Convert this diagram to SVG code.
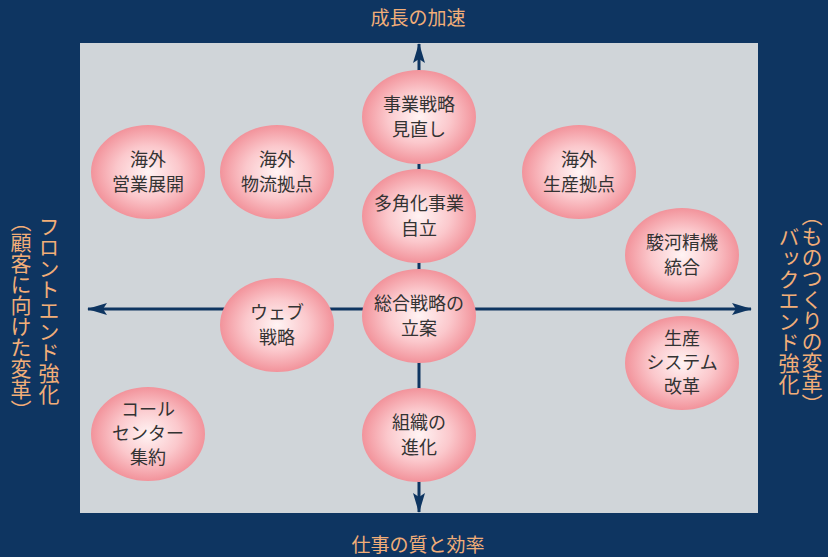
<svg xmlns="http://www.w3.org/2000/svg" width="828" height="557" viewBox="0 0 828 557">
<style>
.lbl{font-family:"Noto Sans CJK JP","Noto Sans",sans-serif;font-size:19px;fill:#f2ae78}
.vt{font-family:"Noto Sans CJK JP","Noto Sans",sans-serif;font-size:21px;fill:#f2ae78;writing-mode:vertical-rl;text-anchor:middle}
.nt{font-family:"Noto Sans CJK JP","Noto Sans",sans-serif;font-size:18px;fill:#333;text-anchor:middle}
.ax{stroke:#0e3561;stroke-width:3;fill:none}
.bub{fill:url(#g)}
</style>
<defs>
<radialGradient id="g" cx="50%" cy="50%" r="50%">
<stop offset="0" stop-color="#fff4f4"/>
<stop offset="0.55" stop-color="#fbc8cc"/>
<stop offset="1" stop-color="#f2939b"/>
</radialGradient>
<marker id="ah" viewBox="0 0 20 12" refX="19" refY="6" markerWidth="20" markerHeight="12" markerUnits="userSpaceOnUse" orient="auto-start-reverse">
<path d="M0,0 L20,6 L0,12 L4,6 Z" fill="#0e3561"/>
</marker>
</defs>
<rect width="828" height="557" fill="#0e3561"/>
<rect x="80" y="43" width="678" height="470" fill="#d0d5d9"/>
<text class="lbl" x="418" y="25" text-anchor="middle">成長の加速</text>
<text class="lbl" x="418" y="552" text-anchor="middle">仕事の質と効率</text>
<text class="vt" x="49" y="310">フロントエンド強化</text>
<text class="vt" x="21" y="316">（顧客に向けた変革）</text>
<text class="vt" x="812" y="310">（ものつくりの変革）</text>
<text class="vt" x="789" y="311">バックエンド強化</text>
<g id="connectors">
<line class="ax" x1="88" y1="309" x2="751" y2="309" marker-start="url(#ah)" marker-end="url(#ah)"/>
<line class="ax" x1="419" y1="44" x2="419" y2="512" marker-start="url(#ah)" marker-end="url(#ah)"/>
</g>
<g id="n1"><ellipse class="bub" cx="419" cy="117" rx="57" ry="47"/><text class="nt" x="419" y="111">事業戦略</text><text class="nt" x="419" y="136">見直し</text></g>
<g id="n2"><ellipse class="bub" cx="419" cy="216" rx="57" ry="47"/><text class="nt" x="419" y="210">多角化事業</text><text class="nt" x="419" y="235">自立</text></g>
<g id="n3"><ellipse class="bub" cx="419" cy="316" rx="57" ry="47"/><text class="nt" x="419" y="310">総合戦略の</text><text class="nt" x="419" y="335">立案</text></g>
<g id="n4"><ellipse class="bub" cx="419" cy="435" rx="57" ry="47"/><text class="nt" x="419" y="429">組織の</text><text class="nt" x="419" y="454">進化</text></g>
<g id="n5"><ellipse class="bub" cx="148" cy="172" rx="57" ry="47"/><text class="nt" x="148" y="166">海外</text><text class="nt" x="148" y="191">営業展開</text></g>
<g id="n6"><ellipse class="bub" cx="277" cy="172" rx="57" ry="47"/><text class="nt" x="277" y="166">海外</text><text class="nt" x="277" y="191">物流拠点</text></g>
<g id="n7"><ellipse class="bub" cx="579" cy="172" rx="57" ry="47"/><text class="nt" x="579" y="166">海外</text><text class="nt" x="579" y="191">生産拠点</text></g>
<g id="n8"><ellipse class="bub" cx="682" cy="255" rx="57" ry="47"/><text class="nt" x="682" y="249">駿河精機</text><text class="nt" x="682" y="274">統合</text></g>
<g id="n9"><ellipse class="bub" cx="682" cy="363" rx="57" ry="47"/><text class="nt" x="682" y="345">生産</text><text class="nt" x="682" y="369">システム</text><text class="nt" x="682" y="393">改革</text></g>
<g id="n10"><ellipse class="bub" cx="277" cy="325" rx="57" ry="47"/><text class="nt" x="277" y="319">ウェブ</text><text class="nt" x="277" y="344">戦略</text></g>
<g id="n11"><ellipse class="bub" cx="148" cy="434" rx="57" ry="47"/><text class="nt" x="148" y="416">コール</text><text class="nt" x="148" y="440">センター</text><text class="nt" x="148" y="464">集約</text></g>
</svg>
